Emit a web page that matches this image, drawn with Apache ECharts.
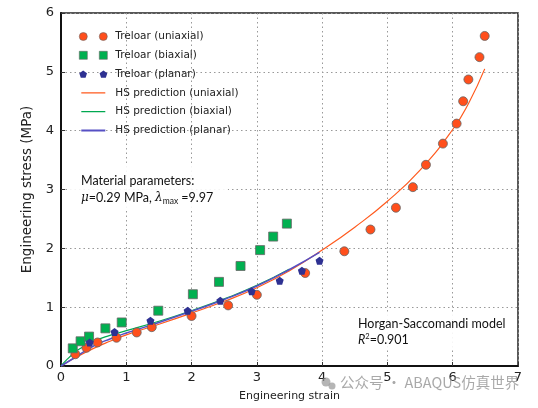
<!DOCTYPE html>
<html>
<head>
<meta charset="utf-8">
<script src="https://cdn.jsdelivr.net/npm/echarts@6/dist/echarts.min.js"></script>
<style>
  html, body { margin: 0; padding: 0; background: #fff; }
  #chart { width: 538px; height: 408px; }
</style>
</head>
<body>
<div id="chart"></div>
<script>
// Treloar test data, [strain, stress MPa]
var uniaxialData = [
  [0.22, 0.20], [0.39, 0.31], [0.56, 0.40], [0.85, 0.48], [1.16, 0.57], [1.39, 0.66],
  [2.00, 0.85], [2.56, 1.03], [3.00, 1.21], [3.74, 1.58], [4.34, 1.95], [4.74, 2.32],
  [5.13, 2.69], [5.39, 3.04], [5.59, 3.42], [5.85, 3.78], [6.06, 4.12], [6.16, 4.50],
  [6.24, 4.87], [6.41, 5.25], [6.49, 5.61]
];
var biaxialData = [
  [0.18, 0.30], [0.30, 0.42], [0.43, 0.50], [0.68, 0.64], [0.93, 0.74], [1.49, 0.94],
  [2.02, 1.22], [2.42, 1.43], [2.75, 1.70], [3.05, 1.97], [3.25, 2.20], [3.46, 2.42]
];
var planarData = [
  [0.44, 0.40], [0.82, 0.58], [1.37, 0.77], [1.94, 0.94], [2.44, 1.11], [2.92, 1.27],
  [3.35, 1.45], [3.69, 1.62], [3.96, 1.79]
];
// HS model curves
var hsUniaxial = [
  [0, 0], [0.25, 0.16], [0.5, 0.30], [0.75, 0.42], [1, 0.53], [1.5, 0.71], [2, 0.90],
  [2.5, 1.10], [3, 1.33], [3.5, 1.62], [4, 1.97], [4.5, 2.36], [5, 2.80], [5.5, 3.33],
  [6, 4.02], [6.25, 4.48], [6.49, 5.05]
];
var hsBiaxial = [
  [0, 0], [0.1, 0.12], [0.2, 0.22], [0.3, 0.30], [0.5, 0.42], [0.75, 0.52], [1, 0.60],
  [1.5, 0.76], [2, 0.94], [2.5, 1.14], [3, 1.37], [3.5, 1.65]
];
var hsPlanar = [
  [0, 0], [0.25, 0.17], [0.5, 0.34], [0.75, 0.46], [1, 0.56], [1.5, 0.74], [2, 0.93],
  [2.5, 1.13], [3, 1.36], [3.5, 1.64], [3.96, 1.93]
];
var seriesNames = ['Treloar (uniaxial)', 'Treloar (biaxial)', 'Treloar (planar)',
  'HS prediction (uniaxial)', 'HS prediction (biaxial)', 'HS prediction (planar)'];

var cOrange = '#ff4f1c', cGreen = '#00b050', cNavy = '#2e3192';
var lOrange = '#ff5a1e', lGreen = '#00a850', lBlue = '#5650c4';

var pent = 'path://M0,-1L0.951,-0.309L0.588,0.809L-0.588,0.809L-0.951,-0.309Z';
// legend icons, all 28x8 so they line up
var twoDots = 'path://M0,4a4,4 0 1,0 8,0a4,4 0 1,0 -8,0M20,4a4,4 0 1,0 8,0a4,4 0 1,0 -8,0';
var twoSquares = 'path://M0,0h8v8h-8zM20,0h8v8h-8z';
var twoPents = 'path://M4,0L7.8,2.8L6.35,7.2L1.65,7.2L0.2,2.8ZM24,0L27.8,2.8L26.35,7.2L21.65,7.2L20.2,2.8Z';
var thinLine = 'path://M0,0L0.01,0L0,0.01ZM28,8L27.99,8L28,7.99ZM2,3.4h24v1.2h-24z';
var thickLine = 'path://M0,0L0.01,0L0,0.01ZM28,8L27.99,8L28,7.99ZM2,3.1h24v1.8h-24z';

var chart = echarts.init(document.getElementById('chart'));
var font = 'DejaVu Sans';

var option = {
  animation: false,
  textStyle: { fontFamily: font },
  grid: { left: 61, right: 20, top: 13, bottom: 42, show: true, borderColor: '#222', borderWidth: 1.5 },
  legend: {
    orient: 'vertical', left: 74, top: 26,
    itemWidth: 28, itemHeight: 8, itemGap: 7.8,
    textStyle: { fontFamily: font, fontSize: 10.5, color: '#222', padding: [0, 0, 0, 3] },
    data: [
      { name: seriesNames[0], icon: twoDots, itemStyle: { color: cOrange, borderColor: '#666', borderWidth: 0.6 } },
      { name: seriesNames[1], icon: twoSquares, itemStyle: { color: cGreen, borderColor: '#666', borderWidth: 0.6 } },
      { name: seriesNames[2], icon: twoPents, itemStyle: { color: cNavy } },
      { name: seriesNames[3], icon: thinLine, itemStyle: { color: lOrange, borderWidth: 0 } },
      { name: seriesNames[4], icon: thinLine, itemStyle: { color: lGreen, borderWidth: 0 } },
      { name: seriesNames[5], icon: thickLine, itemStyle: { color: lBlue, borderWidth: 0 } }
    ]
  },
  xAxis: {
    type: 'value', min: 0, max: 7, interval: 1,
    name: 'Engineering strain', nameLocation: 'middle', nameGap: 25,
    nameTextStyle: { fontFamily: font, fontSize: 11, color: '#222' },
    axisLine: { lineStyle: { color: '#111', width: 2 } },
    axisTick: { inside: true, length: 4, lineStyle: { color: '#333' } },
    axisLabel: { fontFamily: font, fontSize: 13, color: '#222', margin: 5 },
    splitLine: { lineStyle: { color: '#999', type: [1.5, 3], width: 1 } }
  },
  yAxis: {
    type: 'value', min: 0, max: 6, interval: 1,
    name: 'Engineering stress (MPa)', nameLocation: 'middle', nameGap: 22,
    nameTextStyle: { fontFamily: font, fontSize: 13.5, color: '#222' },
    axisLine: { lineStyle: { color: '#111', width: 2 } },
    axisTick: { inside: true, length: 4, lineStyle: { color: '#333' } },
    axisLabel: { fontFamily: font, fontSize: 13, color: '#222', margin: 7 },
    splitLine: { lineStyle: { color: '#999', type: [1.5, 3], width: 1 } }
  },
  series: [
    { name: seriesNames[0], type: 'scatter', data: uniaxialData, symbol: 'circle', symbolSize: 9, z: 5,
      itemStyle: { color: cOrange, opacity: 1, borderColor: '#666', borderWidth: 0.8 } },
    { name: seriesNames[1], type: 'scatter', data: biaxialData, symbol: 'rect', symbolSize: 9, z: 5,
      itemStyle: { color: cGreen, opacity: 1, borderColor: '#666', borderWidth: 0.8 } },
    { name: seriesNames[2], type: 'scatter', data: planarData, symbol: pent, symbolSize: 8, z: 5,
      itemStyle: { color: cNavy, opacity: 1 } },
    { name: seriesNames[3], type: 'line', data: hsUniaxial, smooth: true, showSymbol: false, symbol: 'none', z: 2,
      itemStyle: { color: lOrange }, lineStyle: { color: lOrange, width: 1.2 } },
    { name: seriesNames[4], type: 'line', data: hsBiaxial, smooth: true, showSymbol: false, symbol: 'none', z: 3,
      itemStyle: { color: lGreen }, lineStyle: { color: lGreen, width: 1.2 } },
    { name: seriesNames[5], type: 'line', data: hsPlanar, smooth: true, showSymbol: false, symbol: 'none', z: 4,
      itemStyle: { color: lBlue }, lineStyle: { color: lBlue, width: 1.5 } }
  ],
  graphic: [
    { type: 'rect', left: 70, top: 166, shape: { width: 158, height: 42 }, style: { fill: 'rgba(255,255,255,0.9)' }, z: 10 },
    { type: 'text', left: 81, top: 172, z: 11,
      style: {
        text: 'Material parameters:\n{i|μ}=0.29 MPa, {i|λ}{sub|max} =9.97',
        fontFamily: 'Lato', fontSize: 12.5, fill: '#111', lineHeight: 17,
        rich: {
          i: { fontFamily: 'DejaVu Serif', fontStyle: 'italic', fontSize: 12, fill: '#111' },
          sub: { fontFamily: 'Lato', fontSize: 8.5, fill: '#111', verticalAlign: 'bottom', padding: [6, 0, 0, 0] }
        }
      } },
    { type: 'rect', left: 352, top: 313, shape: { width: 150, height: 36 }, style: { fill: 'rgba(255,255,255,0.9)' }, z: 10 },
    { type: 'text', left: 358, top: 316, z: 11,
      style: {
        text: 'Horgan-Saccomandi model\n{i|R}{sup|2}=0.901',
        fontFamily: 'Lato', fontSize: 12.5, fill: '#111', lineHeight: 16,
        rich: {
          i: { fontFamily: 'Lato', fontStyle: 'italic', fontSize: 12.5, fill: '#111' },
          sup: { fontFamily: 'Lato', fontSize: 7.5, fill: '#111', padding: [0, 0, 6, 0] }
        }
      } },
    { type: 'circle', shape: { cx: 326, cy: 382, r: 4.5 }, style: { fill: 'rgba(150,150,150,0.7)' }, z: 12 },
    { type: 'circle', shape: { cx: 332, cy: 386, r: 3.5 }, style: { fill: 'rgba(150,150,150,0.7)' }, z: 12 },
    { type: 'text', left: 340, top: 375, z: 12,
      style: { text: '公众号 · ABAQUS仿真世界', fontFamily: 'Noto Sans CJK SC', fontSize: 14.5, fill: 'rgba(140,140,140,0.75)' } }
  ]
};
chart.setOption(option);
</script>
</body>
</html>
